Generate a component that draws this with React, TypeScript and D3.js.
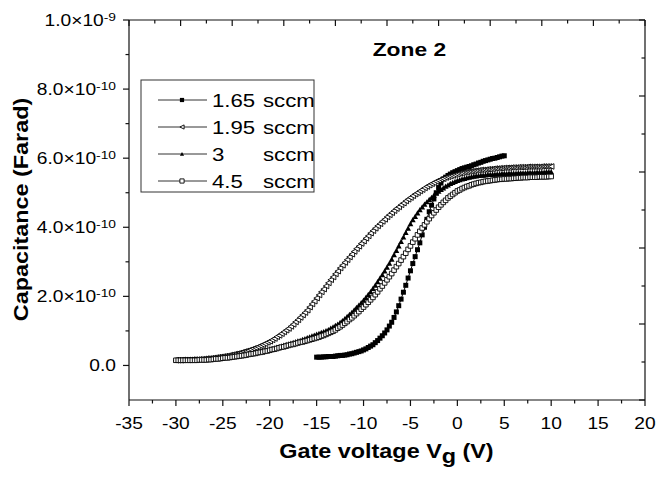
import React from "react";
import * as d3 from "d3";

// ---------------- data (capacitance in units of 1e-10 F) ----------------
const SERIES_LABELS = ["1.65", "1.95", "3", "4.5"];
const SERIES_UNIT = "sccm";
const SWEEP_STEP = 0.25; // V, gate-voltage step of the measurement
const SWEEP_START_165 = -15; // V
const SWEEP_START_OTHERS = -30; // V

// 1.65 sccm, Vg = -15 ... 5 V
const C_165 = [
  0.24, 0.24, 0.24, 0.25, 0.25, 0.26, 0.26, 0.26, 0.27, 0.28,
  0.29, 0.29, 0.30, 0.31, 0.33, 0.34, 0.36, 0.38, 0.40, 0.42,
  0.45, 0.48, 0.52, 0.56, 0.60, 0.66, 0.72, 0.79, 0.86, 0.94,
  1.03, 1.14, 1.25, 1.39, 1.55, 1.73, 1.92, 2.12, 2.32, 2.53,
  2.74, 2.95, 3.15, 3.35, 3.55, 3.78, 4.00, 4.23, 4.45, 4.64,
  4.82, 5.00, 5.15, 5.28, 5.40, 5.45, 5.50, 5.54, 5.58, 5.61,
  5.64, 5.67, 5.70, 5.72, 5.74, 5.76, 5.78, 5.81, 5.83, 5.86,
  5.88, 5.91, 5.93, 5.95, 5.97, 5.99, 6.00, 6.02, 6.04, 6.06,
  6.07,
];

// 1.95 sccm, Vg = -30 ... 10 V
const C_195 = [
  0.15, 0.15, 0.15, 0.16, 0.16, 0.16, 0.16, 0.17, 0.17, 0.17,
  0.18, 0.18, 0.19, 0.20, 0.20, 0.21, 0.22, 0.23, 0.24, 0.25,
  0.26, 0.27, 0.28, 0.30, 0.31, 0.33, 0.34, 0.36, 0.38, 0.40,
  0.42, 0.44, 0.46, 0.49, 0.51, 0.54, 0.57, 0.60, 0.63, 0.67,
  0.70, 0.74, 0.78, 0.83, 0.87, 0.92, 0.97, 1.02, 1.07, 1.13,
  1.19, 1.26, 1.32, 1.39, 1.46, 1.53, 1.60, 1.69, 1.78, 1.86,
  1.95, 2.04, 2.13, 2.21, 2.30, 2.39, 2.48, 2.56, 2.65, 2.73,
  2.82, 2.90, 2.98, 3.06, 3.14, 3.22, 3.30, 3.38, 3.45, 3.53,
  3.60, 3.68, 3.75, 3.83, 3.90, 3.97, 4.04, 4.10, 4.17, 4.23,
  4.30, 4.36, 4.42, 4.48, 4.54, 4.59, 4.65, 4.70, 4.76, 4.81,
  4.86, 4.91, 4.96, 5.00, 5.05, 5.09, 5.14, 5.18, 5.22, 5.26,
  5.29, 5.33, 5.36, 5.39, 5.41, 5.44, 5.46, 5.48, 5.50, 5.52,
  5.54, 5.56, 5.57, 5.59, 5.60, 5.61, 5.62, 5.63, 5.64, 5.65,
  5.66, 5.66, 5.67, 5.68, 5.68, 5.69, 5.70, 5.70, 5.71, 5.71,
  5.72, 5.72, 5.72, 5.73, 5.73, 5.73, 5.74, 5.74, 5.74, 5.74,
  5.75, 5.75, 5.75, 5.75, 5.75, 5.75, 5.76, 5.76, 5.76, 5.76,
  5.76,
];

// 3 sccm, Vg = -30 ... 10 V
const C_3 = [
  0.15, 0.15, 0.15, 0.15,
  0.15, 0.15, 0.15, 0.16,
  0.16, 0.16, 0.17, 0.17,
  0.18, 0.18, 0.19, 0.19,
  0.20, 0.21, 0.21, 0.22,
  0.23, 0.24, 0.24, 0.25,
  0.26, 0.27, 0.28, 0.29,
  0.30, 0.31, 0.32, 0.34,
  0.35, 0.36, 0.38, 0.39,
  0.41, 0.42, 0.44, 0.45,
  0.47, 0.49, 0.50, 0.52,
  0.54, 0.56, 0.58, 0.60,
  0.62, 0.64, 0.66, 0.68,
  0.70, 0.72, 0.75, 0.77,
  0.80, 0.82, 0.85, 0.87,
  0.90, 0.92, 0.95, 0.97,
  1.00, 1.03, 1.07, 1.11,
  1.15, 1.19, 1.24, 1.29,
  1.35, 1.41, 1.47, 1.53,
  1.60, 1.67, 1.74, 1.81,
  1.88, 1.96, 2.05, 2.13,
  2.22, 2.32, 2.42, 2.52,
  2.62, 2.73, 2.84, 2.95,
  3.07, 3.20, 3.32, 3.45,
  3.58, 3.71, 3.84, 3.97,
  4.10, 4.21, 4.31, 4.41,
  4.50, 4.58, 4.66, 4.73,
  4.80, 4.86, 4.92, 4.98,
  5.04, 5.09, 5.13, 5.18,
  5.22, 5.26, 5.29, 5.32,
  5.35, 5.37, 5.39, 5.41,
  5.43, 5.44, 5.46, 5.47,
  5.48, 5.49, 5.50, 5.50,
  5.51, 5.52, 5.52, 5.53,
  5.53, 5.54, 5.54, 5.55,
  5.55, 5.55, 5.56, 5.56,
  5.56, 5.56, 5.57, 5.57,
  5.57, 5.57, 5.58, 5.58,
  5.58, 5.58, 5.59, 5.59,
  5.59, 5.59, 5.60, 5.60,
  5.60,
];

// 4.5 sccm, Vg = -30 ... 10 V
const C_45 = [
  0.15, 0.15, 0.15, 0.15,
  0.15, 0.15, 0.15, 0.15,
  0.15, 0.15, 0.16, 0.16,
  0.16, 0.16, 0.17, 0.17,
  0.18, 0.19, 0.19, 0.20,
  0.21, 0.22, 0.22, 0.23,
  0.24, 0.25, 0.26, 0.27,
  0.28, 0.29, 0.30, 0.32,
  0.33, 0.34, 0.35, 0.37,
  0.38, 0.39, 0.41, 0.42,
  0.44, 0.46, 0.47, 0.49,
  0.51, 0.53, 0.54, 0.56,
  0.58, 0.60, 0.61, 0.63,
  0.65, 0.67, 0.68, 0.70,
  0.72, 0.74, 0.76, 0.78,
  0.80, 0.82, 0.85, 0.87,
  0.90, 0.93, 0.96, 0.99,
  1.03, 1.08, 1.12, 1.17,
  1.22, 1.27, 1.33, 1.38,
  1.44, 1.50, 1.56, 1.63,
  1.69, 1.76, 1.83, 1.90,
  1.97, 2.05, 2.13, 2.22,
  2.30, 2.39, 2.48, 2.57,
  2.66, 2.76, 2.86, 2.95,
  3.05, 3.15, 3.25, 3.36,
  3.46, 3.57, 3.67, 3.78,
  3.88, 3.98, 4.07, 4.16,
  4.25, 4.34, 4.42, 4.50,
  4.58, 4.65, 4.72, 4.78,
  4.85, 4.90, 4.95, 5.00,
  5.05, 5.08, 5.12, 5.15,
  5.18, 5.20, 5.23, 5.25,
  5.27, 5.29, 5.30, 5.32,
  5.33, 5.34, 5.35, 5.36,
  5.37, 5.38, 5.39, 5.39,
  5.40, 5.40, 5.41, 5.41,
  5.42, 5.42, 5.43, 5.43,
  5.44, 5.44, 5.44, 5.45,
  5.45, 5.45, 5.45, 5.46,
  5.46, 5.46, 5.46, 5.47,
  5.47,
];

const X_TICKS = [-35, -30, -25, -20, -15, -10, -5, 0, 5, 10, 15, 20];
const X_MINOR = [-32.5, -27.5, -22.5, -17.5, -12.5, -7.5, -2.5, 2.5, 7.5, 12.5, 17.5];
const Y_TICKS = [0, 2, 4, 6, 8, 10];
const Y_MINOR = [1, 3, 5, 7, 9];
const Y_TICK_MANTISSA = ["0.0", "2.0×10", "4.0×10", "6.0×10", "8.0×10", "1.0×10"];
const Y_TICK_EXPONENT = ["", "-10", "-10", "-10", "-10", "-9"];
const TITLE = "Zone 2";

// ---------------- layout ----------------
const W = 658;
const H = 481;
const PL = 129, PR = 645, PT = 20, PB = 400;
const FONT = "'Liberation Sans', Arial, Helvetica, sans-serif";
const SX = 1.2; // the original font is wider than Arial

const x = d3.scaleLinear().domain([-35, 20]).range([PL, PR]);
const y = d3.scaleLinear().domain([-1, 10]).range([PB, PT]);
const xTop = d3.scaleLinear().domain([0, 20]).range([PL, PR]);
const yRight = d3.scaleLinear().domain([0, 10]).range([PT, PB]);

type Kind = "sqFilled" | "triLeftOpen" | "triUpFilled" | "sqOpen";
const KINDS: Kind[] = ["sqFilled", "triLeftOpen", "triUpFilled", "sqOpen"];

function markerPath(kind: Kind, h: number): string {
  if (kind === "sqFilled" || kind === "sqOpen") return `M${-h},${-h}H${h}V${h}H${-h}Z`;
  if (kind === "triLeftOpen") return `M${-h},0L${h},${-h}L${h},${h}Z`;
  return `M0,${-h}L${h},${h * 0.8}L${-h},${h * 0.8}Z`;
}

function markerProps(kind: Kind) {
  const open = kind === "sqOpen" || kind === "triLeftOpen";
  return open
    ? { fill: "#fff", stroke: "#000", strokeWidth: 0.9 }
    : { fill: "#000", stroke: "none" };
}

const SERIES = [
  { start: SWEEP_START_165, values: C_165, kind: KINDS[0], h: 2.5 },
  { start: SWEEP_START_OTHERS, values: C_195, kind: KINDS[1], h: 2.8 },
  { start: SWEEP_START_OTHERS, values: C_3, kind: KINDS[2], h: 2.9 },
  { start: SWEEP_START_OTHERS, values: C_45, kind: KINDS[3], h: 2.3 },
].map((s) => ({
  ...s,
  points: s.values.map((c, i) => ({ vg: s.start + i * SWEEP_STEP, c })),
}));

const line = d3
  .line<{ vg: number; c: number }>()
  .x((d) => x(d.vg))
  .y((d) => y(d.c));

function Txt(props: {
  x: number;
  y: number;
  size: number;
  anchor?: string;
  bold?: boolean;
  rotate?: number;
  children: React.ReactNode;
}) {
  const { x: tx, y: ty, size, anchor = "start", bold = false, rotate = 0, children } = props;
  return (
    <text
      transform={`translate(${tx},${ty})${rotate ? ` rotate(${rotate})` : ""} scale(${SX},1)`}
      fontSize={size}
      fontFamily={FONT}
      fontWeight={bold ? "bold" : "normal"}
      textAnchor={anchor}
      fill="#000"
    >
      {children}
    </text>
  );
}

export default function App() {
  const axisColor = "#111";
  const MAJ = 6;
  const MIN = 3.5;
  const legendX0 = 141, legendY0 = 80, legendW = 173, legendH = 112;
  const rowY = (i: number) => legendY0 + 20 + i * 27;

  return (
    <svg
      width={W}
      height={H}
      style={{ position: "fixed", left: 0, top: 0, background: "#fff" }}
      xmlns="http://www.w3.org/2000/svg"
    >
      <rect x={0} y={0} width={W} height={H} fill="#fff" />

      {/* series */}
      {SERIES.map((s, si) => (
        <g key={si}>
          <path d={line(s.points) || ""} fill="none" stroke="#000" strokeWidth={1} />
          {s.points.map((p, i) => (
            <path
              key={i}
              d={markerPath(s.kind, s.h)}
              transform={`translate(${x(p.vg)},${y(p.c)})`}
              {...markerProps(s.kind)}
            />
          ))}
        </g>
      ))}

      {/* frame */}
      <g stroke={axisColor} strokeWidth={1.2} fill="none">
        <line x1={PL} y1={PT} x2={PL} y2={PB} />
        <line x1={PL} y1={PB} x2={PR} y2={PB} />
        <line x1={PL} y1={PT} x2={PR} y2={PT} />
        <line x1={PR} y1={PT} x2={PR} y2={PB} />
        {/* bottom ticks (outward) */}
        {X_TICKS.map((t) => (
          <line key={"xb" + t} x1={x(t)} x2={x(t)} y1={PB} y2={PB + MAJ} />
        ))}
        {X_MINOR.map((t) => (
          <line key={"xm" + t} x1={x(t)} x2={x(t)} y1={PB} y2={PB + MIN} />
        ))}
        {/* left ticks (outward) */}
        {Y_TICKS.map((t) => (
          <line key={"yl" + t} x1={PL - MAJ} x2={PL} y1={y(t)} y2={y(t)} />
        ))}
        {Y_MINOR.map((t) => (
          <line key={"ym" + t} x1={PL - MIN} x2={PL} y1={y(t)} y2={y(t)} />
        ))}
        {/* top ticks (inward) */}
        {d3.range(0, 21).map((t) => (
          <line key={"xt" + t} x1={xTop(t)} x2={xTop(t)} y1={PT} y2={PT + (t % 2 === 0 ? MAJ : MIN)} />
        ))}
        {/* right ticks (inward) */}
        {d3.range(0, 11).map((t) => (
          <line key={"yr" + t} x1={PR - (t % 2 === 0 ? MAJ : MIN)} x2={PR} y1={yRight(t)} y2={yRight(t)} />
        ))}
      </g>

      {/* bottom tick labels */}
      {X_TICKS.map((t) => (
        <Txt key={"xl" + t} x={x(t)} y={429} size={16} anchor="middle">
          {String(t)}
        </Txt>
      ))}

      {/* left tick labels */}
      {Y_TICKS.map((t, i) => (
        <Txt key={"ylab" + t} x={116} y={y(t) + 5.5} size={16} anchor="end">
          {Y_TICK_MANTISSA[i]}
          {Y_TICK_EXPONENT[i] ? (
            <tspan dy={-5} fontSize={11.5}>
              {Y_TICK_EXPONENT[i]}
            </tspan>
          ) : null}
        </Txt>
      ))}

      {/* axis titles */}
      <Txt x={386.5} y={458} size={19.5} bold anchor="middle">
        Gate voltage V<tspan dy={5}>g</tspan>
        <tspan dy={-5}> (V)</tspan>
      </Txt>
      <Txt x={28} y={209.5} size={19.5} bold anchor="middle" rotate={-90}>
        Capacitance (Farad)
      </Txt>

      {/* annotation */}
      <Txt x={372.7} y={56} size={19} bold>
        {TITLE}
      </Txt>

      {/* legend */}
      <rect
        x={legendX0}
        y={legendY0}
        width={legendW}
        height={legendH}
        fill="#fff"
        stroke="#333"
        strokeWidth={1}
      />
      {SERIES_LABELS.map((lab, i) => (
        <g key={"lg" + i}>
          <line x1={158} x2={207} y1={rowY(i)} y2={rowY(i)} stroke="#333" strokeWidth={1} />
          <path
            d={markerPath(KINDS[i], 2.1)}
            transform={`translate(182,${rowY(i)})`}
            {...markerProps(KINDS[i])}
          />
          <Txt x={212} y={rowY(i) + 6.7} size={18.5}>
            {lab}
          </Txt>
          <Txt x={263} y={rowY(i) + 6.7} size={18.5}>
            {SERIES_UNIT}
          </Txt>
        </g>
      ))}
    </svg>
  );
}
